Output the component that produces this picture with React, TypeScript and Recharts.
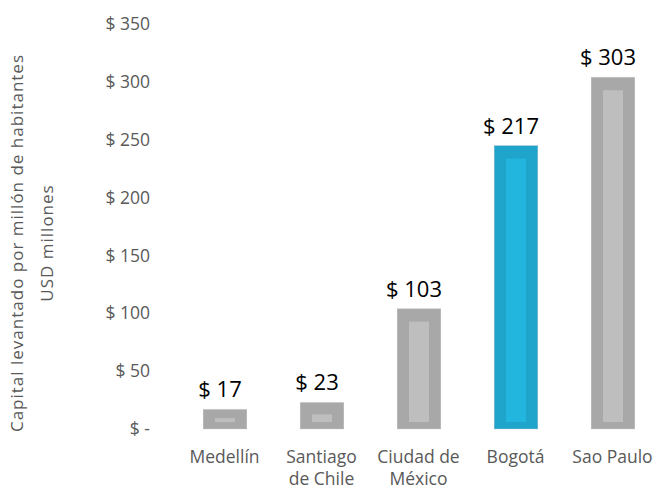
import { BarChart, Bar, XAxis, YAxis, LabelList, Cell } from "recharts";

const cities = ["Medellín", "Santiago de Chile", "Ciudad de México", "Bogotá", "Sao Paulo"];
const tickLines = [["Medellín"], ["Santiago", "de Chile"], ["Ciudad de", "México"], ["Bogotá"], ["Sao Paulo"]];
const barValues = [17, 23, 104, 245, 304];
const valueLabels = ["$ 17", "$ 23", "$ 103", "$ 217", "$ 303"];
const highlighted = ["Bogotá"];
const yTicks = [0, 50, 100, 150, 200, 250, 300, 350];

const data = cities.map((city, i) => ({ city, value: barValues[i], label: valueLabels[i], lines: tickLines[i] }));

const FONT = "'Open Sans', Lato, sans-serif";

function NestedBar(props: any) {
  const { x, y, width, height, payload } = props;
  const blue = highlighted.includes(payload.city);
  const outer = blue ? "#1fa5cb" : "#a8a8a8";
  const inner = blue ? "#22b6df" : "#bebebe";
  const top = Math.min(13, height * 0.45);
  const bottom = Math.min(7, height * 0.35);
  const side = 12;
  return (
    <g>
      <rect x={x} y={y} width={width} height={height} fill={outer} />
      <rect x={x + 0.5} y={y} width={width - 1} height={height} fill="none" stroke="#d0d0d0" strokeOpacity={0.4} />
      <rect x={x + side} y={y + top} width={width - side * 2} height={Math.max(0, height - top - bottom)} fill={inner} />
    </g>
  );
}

function CityTick(props: any) {
  const { x, y, index } = props;
  const lines = tickLines[index] || [];
  return (
    <g>
      {lines.map((l, i) => (
        <text key={i} x={x} y={y + 26 + i * 22} textAnchor="middle" fontSize={17.5} fill="#595959" fontFamily={FONT}>
          {l}
        </text>
      ))}
    </g>
  );
}

function ValueLabel(props: any) {
  const { x, y, width, index } = props;
  return (
    <text x={x + width / 2 - 5} y={y - 12} textAnchor="middle" fontSize={22} fill="#000" fontFamily={FONT}>
      {valueLabels[index]}
    </text>
  );
}

function AxisTitle() {
  return (
    <g fontFamily={FONT} fontSize={17} fill="#595959" letterSpacing={1}>
      <text transform="translate(23,243) rotate(-90)" textAnchor="middle">
        Capital  levantado por millón de habitantes
      </text>
      <text transform="translate(53,243) rotate(-90)" textAnchor="middle">
        USD millones
      </text>
    </g>
  );
}

export default function App() {
  return (
    <div style={{ position: "fixed", left: 0, top: 0, width: 657, height: 491, overflow: "hidden", background: "#fff" }}>
      <BarChart width={661} height={491} data={data} margin={{ top: 24, right: 0, left: 0, bottom: 0 }}>
        <XAxis
          dataKey="city"
          axisLine={false}
          tickLine={false}
          height={62}
          interval={0}
          tick={<CityTick />}
        />
        <YAxis
          width={176}
          domain={[0, 350]}
          ticks={yTicks}
          axisLine={false}
          tickLine={false}
          tickSize={0}
          tickMargin={26}
          tick={{ fontSize: 17.5, fill: "#595959", fontFamily: FONT }}
          tickFormatter={(v: number) => (v === 0 ? "$ -" : `$ ${v}`)}
          label={<AxisTitle />}
        />
        <Bar dataKey="value" barSize={44} shape={<NestedBar />} isAnimationActive={false}>
          {data.map((d) => (
            <Cell key={d.city} />
          ))}
          <LabelList dataKey="label" content={<ValueLabel />} />
        </Bar>
      </BarChart>
    </div>
  );
}
